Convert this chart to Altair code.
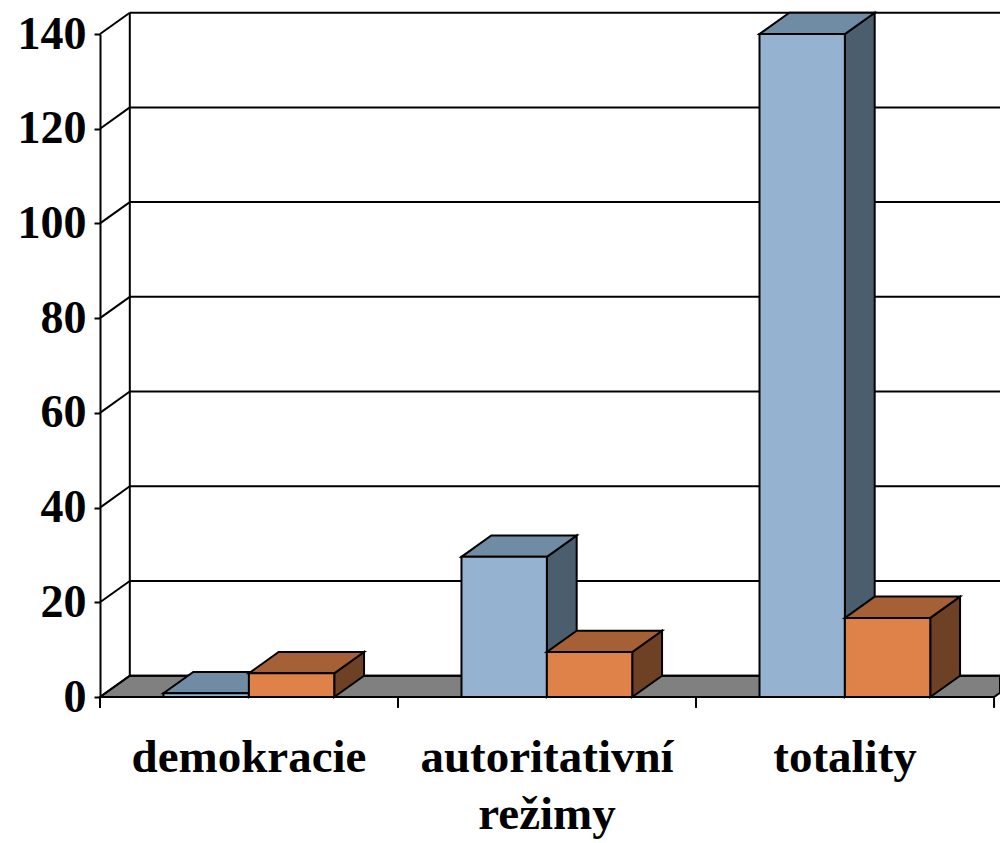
import altair as alt
import pandas as pd

# ---- data ----
categories = ["demokracie", "autoritativní\nrežimy", "totality"]
series_a = [0.8, 29.6, 140.0]   # blue bars
series_b = [5.0, 9.5, 16.7]     # orange bars
y_ticks = [0, 20, 40, 60, 80, 100, 120, 140]

# ---- geometry of the pseudo-3D look (band units / value units) ----
BAR_START = 0.213
BAR_W = 0.2865
DX = 0.1
DY = 4.5
XMAX = 3.02
YMAX = 140

FONT = "Liberation Serif"

colors = {
    "a": {"front": "#95B3D0", "top": "#6F8CA4", "side": "#4B5E6E"},
    "b": {"front": "#DE8249", "top": "#A66035", "side": "#6E4125"},
}

def faces(values, s_index, key):
    fr, tp, sd = [], [], []
    for i, v in enumerate(values):
        x0 = i + BAR_START + s_index * BAR_W
        x1 = x0 + BAR_W
        fr.append({"x": x0, "x2": x1, "y": 0, "y2": v})
        fid = f"{key}{i}"
        tp += [
            {"f": fid, "x": x0, "y": v, "y2": v},
            {"f": fid, "x": x0 + DX, "y": v, "y2": v + DY},
            {"f": fid, "x": x1, "y": v, "y2": v + DY},
            {"f": fid, "x": x1 + DX, "y": v + DY, "y2": v + DY},
        ]
        sd += [
            {"f": fid, "x": x1, "y": 0, "y2": v},
            {"f": fid, "x": x1 + DX, "y": DY, "y2": v + DY},
        ]
    return pd.DataFrame(fr), pd.DataFrame(tp), pd.DataFrame(sd)

xscale = alt.Scale(domain=[0, XMAX], nice=False, zero=False)
yscale = alt.Scale(domain=[0, YMAX], nice=False, zero=False)
yaxis = alt.Axis(
    values=y_ticks, title=None, grid=False,
    labelFont=FONT, labelFontSize=46, labelFontWeight="bold", labelColor="black",
    tickColor="black", tickWidth=2, tickSize=6,
    domainColor="black", domainWidth=2, labelPadding=8,
)
X = alt.X("x:Q", scale=xscale, axis=None)
Y = alt.Y("y:Q", scale=yscale, axis=yaxis)

# floor
floor_df = pd.DataFrame([
    {"x": 0, "y": 0, "y2": 0},
    {"x": DX, "y": 0, "y2": DY},
    {"x": 3, "y": 0, "y2": DY},
    {"x": XMAX, "y": DY * (XMAX - 3) / DX, "y2": DY},
])
floor = alt.Chart(floor_df).mark_area(
    orient="vertical", color="#808080", opacity=1, stroke="black", strokeWidth=2
).encode(x=X, y=Y, y2="y2:Q")

# back wall gridlines
grid_df = pd.DataFrame({"x": [DX] * len(y_ticks), "x2": [XMAX] * len(y_ticks),
                        "y": [v + DY for v in y_ticks]})
grid = alt.Chart(grid_df).mark_rule(color="black", strokeWidth=2).encode(
    x=X, x2="x2:Q", y=Y)

wall_df = pd.DataFrame({"x": [DX], "y": [DY], "y2": [YMAX + DY]})
wall = alt.Chart(wall_df).mark_rule(color="black", strokeWidth=2).encode(
    x=X, y=Y, y2="y2:Q")

diag_df = pd.DataFrame({"x": [0] * len(y_ticks), "x2": [DX] * len(y_ticks),
                        "y": y_ticks, "y2": [v + DY for v in y_ticks]})
diag = alt.Chart(diag_df).mark_rule(color="black", strokeWidth=2).encode(
    x=X, x2="x2:Q", y=Y, y2="y2:Q")

layers = [floor, grid, wall, diag]
for s_index, (key, vals) in enumerate([("a", series_a), ("b", series_b)]):
    fr, tp, sd = faces(vals, s_index, key)
    c = colors[key]
    layers.append(alt.Chart(sd).mark_area(
        orient="vertical", color=c["side"], opacity=1, stroke="black", strokeWidth=2
    ).encode(x=X, y=Y, y2="y2:Q", detail="f:N"))
    layers.append(alt.Chart(tp).mark_area(
        orient="vertical", color=c["top"], opacity=1, stroke="black", strokeWidth=2
    ).encode(x=X, y=Y, y2="y2:Q", detail="f:N"))
    layers.append(alt.Chart(fr).mark_rect(
        color=c["front"], opacity=1, stroke="black", strokeWidth=2
    ).encode(x=X, x2="x2:Q", y=Y, y2="y2:Q"))

# x-axis ticks
tick_df = pd.DataFrame({"x": [0, 1, 2, 3], "y": [0] * 4, "y2": [-2.3] * 4})
ticks = alt.Chart(tick_df).mark_rule(color="black", strokeWidth=2).encode(
    x=X, y=Y, y2="y2:Q")

label_df = pd.DataFrame({"x": [i + 0.5 for i in range(len(categories))],
                         "y": [0] * len(categories), "label": categories})
labels = alt.Chart(label_df).mark_text(
    font=FONT, fontSize=47, fontWeight="bold", color="black",
    baseline="alphabetic", align="center", dy=75, lineBreak="\n", lineHeight=57
).encode(x=X, y=Y, text="label:N")

layers += [ticks, labels]

chart = alt.layer(*layers).properties(
    width=900, height=663,
    padding={"left": 92, "top": 26, "right": 0, "bottom": 146},
    autosize="none",
).configure_view(stroke=None)

chart.save("out.html", embed_options={"renderer": "svg", "actions": False})
